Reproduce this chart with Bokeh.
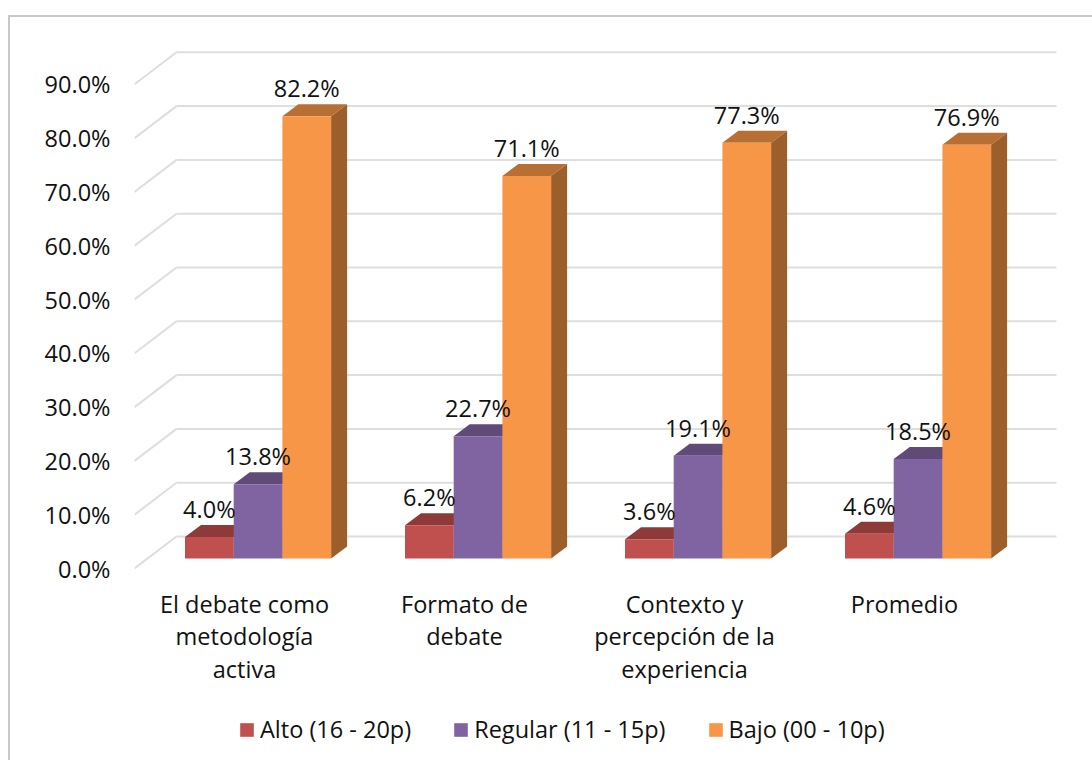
from bokeh.plotting import figure
from bokeh.models import Range1d, FixedTicker, Legend, LegendItem
from bokeh.core.properties import value
from bokeh.embed import file_html
from bokeh.resources import INLINE

categories = [["El debate como", "metodología", "activa"], ["Formato de", "debate"],
              ["Contexto y", "percepción de la", "experiencia"], ["Promedio"]]
series_names = ["Alto (16 - 20p)", "Regular (11 - 15p)", "Bajo (00 - 10p)"]
alto = [4.0, 6.2, 3.6, 4.6]
regular = [13.8, 22.7, 19.1, 18.5]
bajo = [82.2, 71.1, 77.3, 76.9]
y_ticks = [0, 10, 20, 30, 40, 50, 60, 70, 80, 90]
y_tick_labels = ["0.0%", "10.0%", "20.0%", "30.0%", "40.0%", "50.0%", "60.0%", "70.0%", "80.0%", "90.0%"]

front = ["#c0504d", "#8064a2", "#f79646"]
top_c = ["#8e3a38", "#5f4a78", "#b86f34"]
side_c = ["#8e3a38", "#5f4a78", "#9c5f2c"]

FONT = "Open Sans"
SIZE = "23.5px"
INK = "#111111"
PX_X = 220.0      # pixels per category
PX_Y = 5.38       # pixels per percentage point

ORG_X, ORG_Y = 11, 17   # where the figure's content starts on the page
W, H = 1084, 745
L = 135 - ORG_X
FW, FH = W - L, H
ZERO_Y = 568 - ORG_Y    # pixel row of the 0 tick inside the figure

p = figure(width=W, height=H, output_backend="svg", toolbar_location=None,
           x_range=Range1d(0, FW / PX_X),
           y_range=Range1d(-(FH - ZERO_Y) / PX_Y, ZERO_Y / PX_Y),
           min_border_left=L, min_border_right=0, min_border_top=0, min_border_bottom=0,
           margin=(15, 0, 0, 8),
           styles={"border-left": "2px solid #c8c8c8", "border-top": "2px solid #c8c8c8"})
p.outline_line_color = None
p.grid.visible = False
p.xaxis.visible = False
p.background_fill_color = "white"
p.border_fill_color = "white"

# walls
wall_dx, wall_dy = 42 / PX_X, 32 / PX_Y
n = len(categories)
grid_c = "#dedede"
p.segment(x0=[0] * len(y_ticks), y0=y_ticks,
          x1=[wall_dx] * len(y_ticks), y1=[v + wall_dy for v in y_ticks],
          line_color=grid_c, line_width=2)
p.segment(x0=[wall_dx] * len(y_ticks), y0=[v + wall_dy for v in y_ticks],
          x1=[n + wall_dx] * len(y_ticks), y1=[v + wall_dy for v in y_ticks],
          line_color=grid_c, line_width=2)

# bars
bar_w = 48.7 / PX_X
first = 50.5 / PX_X
base = 10 / PX_Y
dx, dy = 16 / PX_X, 12 / PX_Y
items = []
for s, vals in enumerate([alto, regular, bajo]):
    lefts = [i + first + s * bar_w for i in range(n)]
    rights = [l + bar_w for l in lefts]
    tops = [base + v for v in vals]
    p.patches(xs=[[l, r, r + dx, l + dx] for l, r in zip(lefts, rights)],
              ys=[[t, t, t + dy, t + dy] for t in tops],
              fill_color=top_c[s], line_color=None)
    p.patches(xs=[[r, r + dx, r + dx, r] for r in rights],
              ys=[[base, base + dy, t + dy, t] for t in tops],
              fill_color=side_c[s], line_color=None)
    q = p.quad(left=lefts, right=rights, bottom=[base] * n, top=tops,
               fill_color=front[s], line_color=None)
    items.append(LegendItem(label=series_names[s], renderers=[q]))

# data labels
for s, vals in enumerate([alto, regular, bajo]):
    xs = [i + first + (s + 0.5) * bar_w for i in range(n)]
    p.text(x=xs, y=[base + v for v in vals], text=[f"{v:.1f}%" for v in vals],
           text_font=value(FONT), text_font_size=SIZE, text_color=INK,
           text_align="center", text_baseline="middle", y_offset=-28)

# category labels, one text per line
for i, lines in enumerate(categories):
    for k, line in enumerate(lines):
        p.text(x=[i + 0.5], y=[0], text=[line], text_font=value(FONT), text_font_size=SIZE,
               text_color=INK, text_align="center", text_baseline="middle",
               y_offset=35 + 32.5 * k)

# y axis
ya = p.yaxis[0]
ya.ticker = FixedTicker(ticks=y_ticks)
ya.major_label_overrides = dict(zip(y_ticks, y_tick_labels))
ya.axis_line_color = None
ya.major_tick_line_color = None
ya.minor_tick_line_color = None
ya.major_label_standoff = 18
ya.major_label_text_font = FONT
ya.major_label_text_font_size = SIZE
ya.major_label_text_color = INK

leg = Legend(items=items, orientation="horizontal", location=(104, 17),
             background_fill_alpha=0, border_line_color=None,
             glyph_width=17, glyph_height=17, label_standoff=5, spacing=41,
             margin=0, padding=0,
             label_text_font=FONT, label_text_font_size=SIZE, label_text_color=INK)
p.add_layout(leg, "center")

open("out.html", "w").write(file_html(p, INLINE))
